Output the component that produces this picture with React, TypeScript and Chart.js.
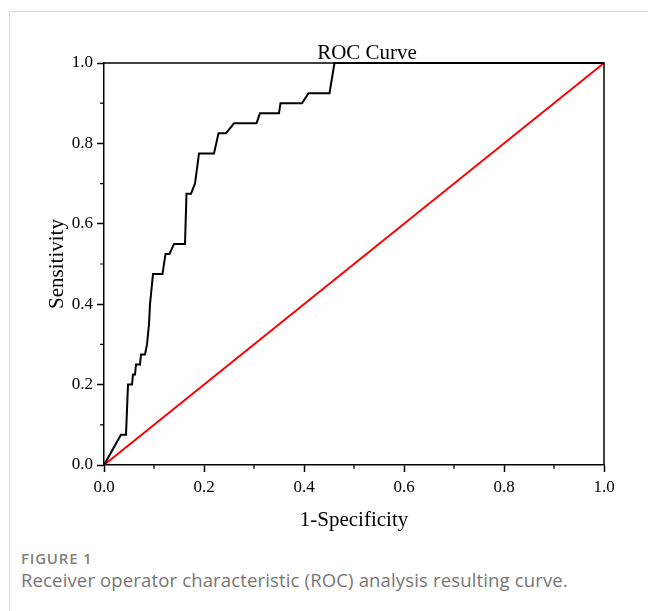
import React, { useEffect, useRef } from "react";
import { Chart, registerables } from "chart.js";

Chart.register(...registerables);

// ROC curve points
const fpr = [0, 0.034, 0.044, 0.048, 0.056, 0.058, 0.062, 0.064, 0.072, 0.074, 0.082, 0.086, 0.09, 0.092, 0.098, 0.117, 0.123, 0.131, 0.14, 0.162, 0.165, 0.174, 0.182, 0.19, 0.22, 0.229, 0.244, 0.26, 0.305, 0.312, 0.35, 0.353, 0.396, 0.409, 0.451, 0.461, 1.0];
const tpr = [0, 0.075, 0.075, 0.2, 0.2, 0.225, 0.225, 0.25, 0.25, 0.275, 0.275, 0.3, 0.35, 0.4, 0.475, 0.475, 0.525, 0.525, 0.55, 0.55, 0.675, 0.675, 0.7, 0.775, 0.775, 0.825, 0.825, 0.85, 0.85, 0.875, 0.875, 0.9, 0.9, 0.925, 0.925, 1.0, 1.0];

// reference (chance) diagonal
const refX = [0, 1];
const refY = [0, 1];

const minorTickValues = [0.1, 0.3, 0.5, 0.7, 0.9];

const chartTitle = "ROC Curve";
const xTitle = "1-Specificity";
const yTitle = "Sensitivity";
const figureLabel = "FIGURE 1";
const captionText = "Receiver operator characteristic (ROC) analysis resulting curve.";

const SERIF = '"Liberation Serif", "Times New Roman", serif';

const framePlugin = {
  id: "frameAndMinor",
  afterDraw(chart: any) {
    const { ctx, chartArea: a, scales } = chart;
    ctx.save();
    ctx.strokeStyle = "#000";
    ctx.lineWidth = 1.5;
    ctx.beginPath();
    ctx.moveTo(a.left, a.top);
    ctx.lineTo(a.right, a.top);
    ctx.lineTo(a.right, a.bottom);
    ctx.stroke();

    ctx.lineWidth = 1.2;
    ctx.beginPath();
    for (const v of minorTickValues) {
      const px = scales.x.getPixelForValue(v);
      ctx.moveTo(px, a.bottom);
      ctx.lineTo(px, a.bottom + 4);
      const py = scales.y.getPixelForValue(v);
      ctx.moveTo(a.left - 4, py);
      ctx.lineTo(a.left, py);
    }
    ctx.stroke();

    ctx.font = "21px " + SERIF;
    ctx.fillStyle = "#000";
    ctx.textAlign = "center";
    ctx.textBaseline = "middle";
    ctx.fillText(chartTitle, (a.left + a.right) / 2 + 13, a.top - 10);
    ctx.restore();
  },
};

export default function App() {
  const canvasRef = useRef<HTMLCanvasElement | null>(null);

  useEffect(() => {
    if (!canvasRef.current) return;
    const rocData = fpr.map((x, i) => ({ x, y: tpr[i] }));
    const diagData = refX.map((x, i) => ({ x, y: refY[i] }));
    const chart = new Chart(canvasRef.current, {
      type: "line",
      data: {
        datasets: [
          {
            label: "ROC",
            data: rocData,
            borderColor: "#000000",
            borderWidth: 2,
            pointRadius: 0,
            tension: 0,
            fill: false,
            clip: 4,
          },
          {
            label: "Reference",
            data: diagData,
            borderColor: "#ff0000",
            borderWidth: 2,
            pointRadius: 0,
            tension: 0,
            fill: false,
            clip: 4,
          },
        ],
      },
      options: {
        responsive: false,
        animation: false,
        devicePixelRatio: 1,
        layout: { padding: { top: 63, right: 44, left: 0, bottom: 0 } },
        plugins: {
          legend: { display: false },
          tooltip: { enabled: false },
          title: { display: false },
        },
        scales: {
          x: {
            type: "linear",
            min: 0,
            max: 1,
            afterFit: (s: any) => {
              s.height = 75;
            },
            ticks: {
              stepSize: 0.2,
              color: "#000",
              font: { family: SERIF, size: 17 },
              padding: 5,
              maxRotation: 0,
              callback: (v: any) => Number(v).toFixed(1),
            },
            grid: {
              display: true,
              drawOnChartArea: false,
              drawTicks: true,
              tickLength: 7,
              tickColor: "#000",
              tickWidth: 1.5,
            },
            border: { display: true, color: "#000", width: 1.5 },
            title: {
              display: true,
              text: xTitle,
              color: "#000",
              font: { family: SERIF, size: 21 },
              padding: { top: 0, bottom: 7 },
            },
          },
          y: {
            type: "linear",
            min: 0,
            max: 1,
            afterFit: (s: any) => {
              s.width = 104;
            },
            ticks: {
              stepSize: 0.2,
              color: "#000",
              font: { family: SERIF, size: 17 },
              padding: 4,
              callback: (v: any) => Number(v).toFixed(1),
            },
            grid: {
              display: true,
              drawOnChartArea: false,
              drawTicks: true,
              tickLength: 7,
              tickColor: "#000",
              tickWidth: 1.5,
            },
            border: { display: true, color: "#000", width: 1.5 },
            title: {
              display: true,
              text: yTitle,
              color: "#000",
              font: { family: SERIF, size: 21 },
              padding: { top: 45, bottom: 0 },
            },
          },
        },
      },
      plugins: [framePlugin],
    } as any);
    return () => chart.destroy();
  }, []);

  return (
    <div style={{ position: "absolute", left: 0, top: 0, width: 648, height: 611, overflow: "hidden", background: "#fff" }}>
      <div
        style={{
          position: "absolute",
          left: 9,
          top: 11,
          width: 700,
          height: 700,
          borderTop: "1px solid #d8d8d8",
          borderLeft: "1px solid #d8d8d8",
        }}
      />
      <canvas
        ref={canvasRef}
        width={648}
        height={540}
        style={{ position: "absolute", left: 0, top: 0, width: 648, height: 540 }}
      />
      <div
        style={{
          position: "absolute",
          left: 21,
          top: 549,
          fontFamily: '"Open Sans", "Noto Sans", sans-serif',
          fontSize: 15,
          lineHeight: "18px",
          fontWeight: 600,
          letterSpacing: "0.8px",
          color: "#808080",
          whiteSpace: "nowrap",
        }}
      >
        {figureLabel}
      </div>
      <div
        style={{
          position: "absolute",
          left: 21,
          top: 569,
          fontFamily: '"Open Sans", "Noto Sans", sans-serif',
          fontSize: 18.5,
          lineHeight: "22px",
          letterSpacing: "0.15px",
          color: "#767676",
          whiteSpace: "nowrap",
        }}
      >
        {captionText}
      </div>
    </div>
  );
}
